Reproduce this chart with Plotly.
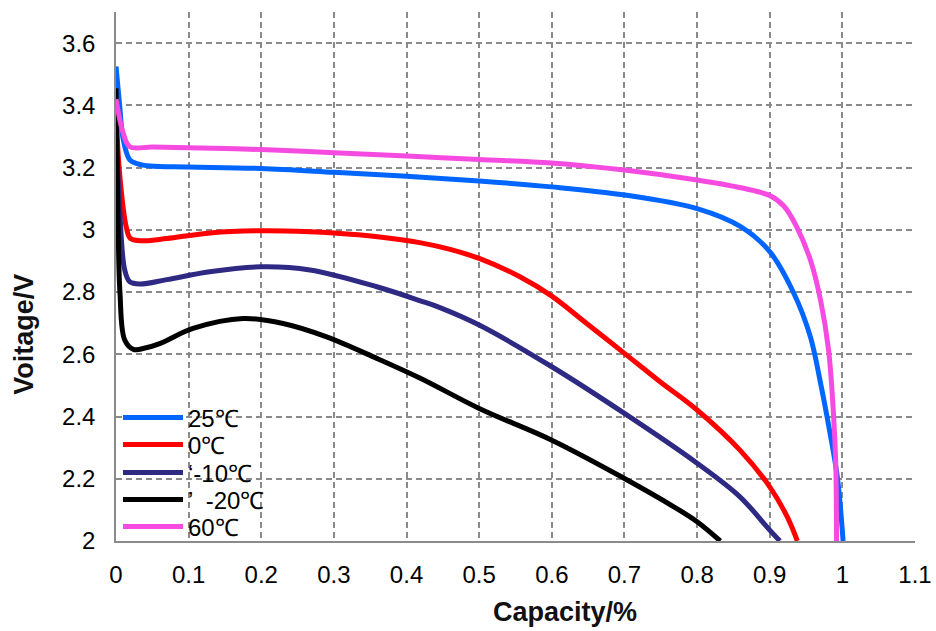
import plotly.graph_objects as go

# ---- data ----
series_names = ["25℃", "0℃", "‘-10℃", "’  -20℃", "60℃"]
series_colors = ["#0066FF", "#FF0000", "#2E2A83", "#000000", "#F64BE0"]

x_25 = [0, 0.005, 0.01, 0.019, 0.03, 0.047, 0.1, 0.2, 0.3, 0.4, 0.5, 0.6, 0.7,
        0.8, 0.86, 0.9, 0.933, 0.956, 0.97, 0.983, 0.993, 1.001]
y_25 = [3.525, 3.40, 3.29, 3.225, 3.212, 3.205, 3.202, 3.197, 3.185, 3.172, 3.157,
        3.138, 3.112, 3.068, 3.01, 2.93, 2.797, 2.656, 2.507, 2.347, 2.207, 2.0]

x_0 = [0, 0.005, 0.014, 0.02, 0.038, 0.07, 0.13, 0.2, 0.267, 0.3, 0.36, 0.42, 0.46,
       0.5, 0.556, 0.6, 0.648, 0.7, 0.749, 0.8, 0.859, 0.9, 0.924, 0.938]
y_0 = [3.38, 3.18, 3.01, 2.972, 2.965, 2.972, 2.99, 2.997, 2.994, 2.99, 2.978, 2.958,
       2.937, 2.908, 2.849, 2.787, 2.699, 2.603, 2.512, 2.421, 2.292, 2.174, 2.078, 2.0]

x_m10 = [0, 0.005, 0.012, 0.019, 0.033, 0.07, 0.129, 0.2, 0.267, 0.359, 0.419,
         0.446, 0.5, 0.6, 0.7, 0.8, 0.859, 0.9, 0.914]
y_m10 = [3.35, 3.07, 2.871, 2.833, 2.826, 2.84, 2.865, 2.881, 2.871, 2.817, 2.772,
         2.75, 2.694, 2.56, 2.41, 2.25, 2.142, 2.035, 2.0]

x_m20 = [0, 0.003, 0.0055, 0.012, 0.024, 0.04, 0.061, 0.106, 0.175, 0.23, 0.29,
         0.359, 0.419, 0.5, 0.6, 0.7, 0.768, 0.8, 0.832]
y_m20 = [3.455, 3.0, 2.796, 2.646, 2.616, 2.62, 2.635, 2.683, 2.715, 2.699, 2.656,
         2.587, 2.523, 2.426, 2.324, 2.201, 2.11, 2.062, 2.0]

x_60 = [0, 0.01, 0.019, 0.05, 0.1, 0.2, 0.3, 0.4, 0.5, 0.6, 0.7, 0.8, 0.86, 0.9,
        0.92, 0.937, 0.956, 0.97, 0.981, 0.988, 0.991, 0.992]
y_60 = [3.42, 3.31, 3.267, 3.266, 3.264, 3.258, 3.248, 3.237, 3.226, 3.215, 3.192,
        3.16, 3.135, 3.11, 3.075, 3.01, 2.903, 2.774, 2.614, 2.40, 2.239, 2.0]

x_tickvals = [0, 0.1, 0.2, 0.3, 0.4, 0.5, 0.6, 0.7, 0.8, 0.9, 1.0, 1.1]
x_ticktext = ["0", "0.1", "0.2", "0.3", "0.4", "0.5", "0.6", "0.7", "0.8", "0.9", "1", "1.1"]
y_tickvals = [2.0, 2.2, 2.4, 2.6, 2.8, 3.0, 3.2, 3.4, 3.6]
y_ticktext = ["2", "2.2", "2.4", "2.6", "2.8", "3", "3.2", "3.4", "3.6"]

x_title = "Capacity/%"
y_title = "Voitage/V"

xs = [x_25, x_0, x_m10, x_m20, x_60]
ys = [y_25, y_0, y_m10, y_m20, y_60]

FONT = "Liberation Sans, Arial, sans-serif"
GRID = "#8A8A8A"

legend_ids = ["legend", "legend2", "legend3", "legend4", "legend5"]
legend_y = [0.2325, 0.1815, 0.1285, 0.0775, 0.0265]

fig = go.Figure()
for name, color, xv, yv, lid in zip(series_names, series_colors, xs, ys, legend_ids):
    fig.add_trace(go.Scatter(
        x=xv, y=yv, name=name, mode="lines", legend=lid,
        line=dict(color=color, width=5, shape="spline", smoothing=1.0),
    ))

legend_common = dict(
    x=0.0025, xanchor="left", yanchor="middle",
    bgcolor="rgba(0,0,0,0)", font=dict(size=24, family=FONT, color="black"),
    itemwidth=60, borderwidth=0,
)
layout_legends = {}
for lid, ly in zip(legend_ids, legend_y):
    layout_legends[lid] = dict(legend_common, y=ly)

fig.update_layout(
    width=936, height=631,
    margin=dict(l=116, r=21, t=12, b=90),
    paper_bgcolor="white", plot_bgcolor="white",
    font=dict(family=FONT, color="black", size=24),
    showlegend=True,
    **layout_legends,
)
fig.update_xaxes(
    range=[0, 1.1], tickvals=x_tickvals, ticktext=x_ticktext, automargin=False,
    showgrid=True, gridcolor=GRID, gridwidth=1.5, griddash="6px,4px",
    showline=True, linecolor=GRID, linewidth=1.5, zeroline=False,
    ticks="", ticklabelstandoff=11,
    tickfont=dict(size=24, family=FONT, color="black"),
)
fig.update_yaxes(
    range=[2, 3.7], tickvals=y_tickvals, ticktext=y_ticktext, automargin=False,
    showgrid=True, gridcolor=GRID, gridwidth=1.5, griddash="6px,4px",
    showline=True, linecolor=GRID, linewidth=1.5, zeroline=False,
    ticks="", ticklabelstandoff=14,
    tickfont=dict(size=24, family=FONT, color="black"),
)

title_font = dict(size=27, family=FONT, color="#111111", weight="bold")
fig.add_annotation(text=x_title, xref="paper", yref="paper", x=0.562, y=-0.134,
                   xanchor="center", yanchor="middle", showarrow=False, font=title_font)
fig.add_annotation(text=y_title, xref="paper", yref="paper", x=-0.115, y=0.39,
                   xanchor="center", yanchor="middle", textangle=-90, showarrow=False,
                   font=title_font)

fig.write_html("out.html", config={"displayModeBar": False},
               post_script="document.body.style.margin='0px';document.body.style.overflow='hidden';")
